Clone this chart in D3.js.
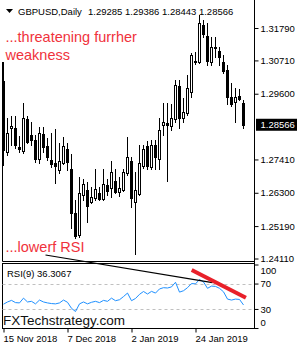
<!DOCTYPE html>
<html>
<head>
<meta charset="utf-8">
<script src="https://cdn.jsdelivr.net/npm/d3@7"></script>
<style>
    body { margin: 0; background: #fff; }
    svg { display: block; font-family: 'Liberation Sans', Arial, sans-serif; }
</style>
</head>
<body>
<svg id="chart" width="300" height="350"></svg>
<script>

// GBPUSD daily, 15 Nov 2018 .. 11 Feb 2019
const symbol = 'GBPUSD,Daily'
const lastQuote = [1.29285, 1.29386, 1.28443, 1.28566]

const open = [1.3002, 1.2766, 1.2846, 1.2846, 1.2782, 1.2769, 1.2876, 1.2822, 1.2806, 1.2742,
    1.2826, 1.2786, 1.2739, 1.2729, 1.2706, 1.2729, 1.2776, 1.2709, 1.2562, 1.2489,
    1.2622, 1.2639, 1.2599, 1.2612, 1.2629, 1.2609, 1.2656, 1.2646, 1.2669, 1.2632,
    1.2639, 1.2696, 1.2736, 1.2599, 1.2626, 1.2719, 1.2786, 1.2716, 1.2789, 1.2742,
    1.2856, 1.2862, 1.2852, 1.2876, 1.2986, 1.2879, 1.2896, 1.2966, 1.3066, 1.3066,
    1.3189, 1.3152, 1.3066, 1.3112, 1.3102, 1.3066, 1.3039, 1.2949, 1.2932, 1.2952,
    1.29285]
const high = [1.3066, 1.2879, 1.2886, 1.2886, 1.2819, 1.2929, 1.2886, 1.2866, 1.2822, 1.2849,
    1.2849, 1.2812, 1.2829, 1.2842, 1.2796, 1.2816, 1.2796, 1.2759, 1.2606, 1.2682,
    1.2676, 1.2666, 1.2649, 1.2709, 1.2649, 1.2709, 1.2676, 1.2736, 1.2709, 1.2682,
    1.2709, 1.2816, 1.2749, 1.2699, 1.2789, 1.2789, 1.2802, 1.2806, 1.2806, 1.2879,
    1.2929, 1.2929, 1.2926, 1.3006, 1.3006, 1.2946, 1.3022, 1.3096, 1.3099, 1.3222,
    1.3206, 1.3196, 1.3149, 1.3149, 1.3116, 1.3089, 1.3056, 1.2996, 1.2979, 1.2976,
    1.29386]
const low = [1.2722, 1.2756, 1.2789, 1.2779, 1.2766, 1.2762, 1.2796, 1.2789, 1.2732, 1.2729,
    1.2766, 1.2739, 1.2716, 1.2662, 1.2696, 1.2726, 1.2706, 1.2512, 1.2479, 1.2482,
    1.2606, 1.2532, 1.2596, 1.2606, 1.2606, 1.2606, 1.2622, 1.2616, 1.2629, 1.2619,
    1.2636, 1.2689, 1.2582, 1.2426, 1.2622, 1.2712, 1.2709, 1.2709, 1.2709, 1.2709,
    1.2822, 1.2669, 1.2839, 1.2866, 1.2846, 1.2866, 1.2889, 1.2949, 1.3059, 1.3062,
    1.3149, 1.3056, 1.3056, 1.3082, 1.3056, 1.3029, 1.2926, 1.2919, 1.2866, 1.2939,
    1.28443]
const close = [1.2772, 1.2829, 1.2852, 1.2789, 1.2776, 1.2879, 1.2799, 1.2806, 1.2742, 1.2829,
    1.2782, 1.2749, 1.2726, 1.2719, 1.2736, 1.2786, 1.2732, 1.2562, 1.2486, 1.2629,
    1.2659, 1.2586, 1.2616, 1.2642, 1.2609, 1.2659, 1.2636, 1.2699, 1.2632, 1.2646,
    1.2699, 1.2749, 1.2612, 1.2639, 1.2729, 1.2776, 1.2719, 1.2789, 1.2749, 1.2839,
    1.2866, 1.2856, 1.2879, 1.2989, 1.2879, 1.2899, 1.2979, 1.3089, 1.3069, 1.3196,
    1.3159, 1.3069, 1.3116, 1.3116, 1.3082, 1.3036, 1.2949, 1.2926, 1.2949, 1.2942,
    1.28566]

const rsi = [37.5, 41, 43.5, 40, 39.5, 47, 41, 42, 38, 44,
    41, 39.5, 38.5, 38, 39.5, 44, 40.5, 31, 26, 38,
    41, 38, 40.5, 42, 40, 43.5, 42, 47, 43, 44.5,
    49.5, 55, 43, 46.5, 53, 57.5, 53.5, 57.7, 55, 61.5,
    63.5, 63, 64.7, 72, 56.5, 58.7, 63.5, 70, 69.5, 76.4,
    72.5, 62.5, 66, 65.5, 62.5, 57, 45.5, 44, 45.5, 45,
    36.3067]

const priceTicks = [1.31790, 1.30710, 1.29600, 1.27410, 1.26300, 1.25190, 1.24110]
const rsiTicks = [100, 70, 30, 0]
const rsiLevels = [70, 30]
const dateTicks = [0, 16, 32, 48]
const dateLabels = ['15 Nov 2018', '7 Dec 2018', '2 Jan 2019', '24 Jan 2019']

// drawn-on trend lines, as (bar index, rsi value)
const rsiTrend = [{ i: 10.5, v: 115 }, { i: 52.25, v: 71.5 }]
const rsiBreak = [{ i: 47.05, v: 91.3 }, { i: 60.6, v: 47.7 }]

const notes = [
    { text: '...threatening furrher', y: 42 },
    { text: 'weakness', y: 60 },
    { text: '...lowerf RSI', y: 252 }
]

const svg = d3.select('#chart')

const left = 2.5
const right = 254.5
const mainBottom = 261.5
const rsiTop = 263.5
const rsiBottom = 328.5

const x = d3.scaleLinear().domain([0, 60]).range([3.5, 243.5])
const y = d3.scaleLinear().domain([1.2411, 1.3179]).range([258.5, 28])
const r = d3.scaleLinear().domain([0, 100]).range([328, 264.5])

const px = v => Math.round(v) + 0.5

// frames
svg.append('line')
    .attr('x1', left).attr('x2', left).attr('y1', 62).attr('y2', mainBottom)
    .attr('stroke', '#000')
svg.append('line')
    .attr('x1', left).attr('x2', right).attr('y1', mainBottom).attr('y2', mainBottom)
    .attr('stroke', '#000')
svg.append('rect')
    .attr('x', left).attr('y', rsiTop)
    .attr('width', right - left).attr('height', rsiBottom - rsiTop)
    .attr('fill', 'none').attr('stroke', '#000')
svg.append('line')
    .attr('x1', right).attr('x2', right).attr('y1', 0).attr('y2', rsiBottom)
    .attr('stroke', '#000')

// candles
const bars = d3.range(close.length).map(i => ({ i, o: open[i], h: high[i], l: low[i], c: close[i] }))

const candles = svg.append('g').attr('shape-rendering', 'crispEdges')

candles.selectAll('line.wick').data(bars).enter()
    .append('line')
    .attr('class', 'wick')
    .attr('x1', d => x(d.i)).attr('x2', d => x(d.i))
    .attr('y1', d => px(y(d.h)) - 0.5).attr('y2', d => px(y(d.l)) + 0.5)
    .attr('stroke', '#000')

candles.selectAll('rect.body').data(bars).enter()
    .append('rect')
    .attr('class', 'body')
    .attr('x', d => x(d.i) - 1)
    .attr('y', d => px(y(Math.max(d.o, d.c))))
    .attr('width', 2)
    .attr('height', d => px(y(Math.min(d.o, d.c))) - px(y(Math.max(d.o, d.c))))
    .attr('fill', d => d.c >= d.o ? '#fff' : '#000')
    .attr('stroke', '#000')

// price axis
const priceAxis = svg.append('g')
    .attr('transform', `translate(${right},0)`)
    .call(d3.axisRight(y).tickValues(priceTicks).tickFormat(d3.format('.5f')).tickSize(4).tickPadding(2))
priceAxis.select('.domain').remove()
priceAxis.selectAll('text').attr('font-size', 9.5).attr('font-family', null).attr('fill', '#000')

const last = lastQuote[3]
const tag = svg.append('g').attr('transform', `translate(${right},${y(last)})`)
tag.append('rect').attr('x', 1.5).attr('y', -6).attr('width', 41).attr('height', 12).attr('fill', '#000')
tag.append('text').attr('x', 6).attr('dy', '0.35em').attr('font-size', 9.5).attr('fill', '#fff')
    .text(d3.format('.5f')(last))

// header
svg.append('path')
    .attr('d', d3.line()([[6, 9], [13, 9], [9.5, 13]]) + 'Z')
    .attr('fill', '#000')
svg.append('text').attr('x', 18).attr('y', 14.5).attr('font-size', 9.5).text(symbol)
svg.append('text').attr('x', 88).attr('y', 14.5).attr('font-size', 9.5)
    .text(lastQuote.map(d3.format('.5f')).join(' '))

// rsi panel
svg.selectAll('line.level').data(rsiLevels).enter()
    .append('line')
    .attr('class', 'level')
    .attr('x1', left).attr('x2', right)
    .attr('y1', d => px(r(d))).attr('y2', d => px(r(d)))
    .attr('stroke', '#c0c0c0')
    .attr('stroke-dasharray', '3,3')

svg.append('path')
    .datum(rsi)
    .attr('d', d3.line().x((d, i) => x(i)).y(d => r(d)))
    .attr('fill', 'none')
    .attr('stroke', '#1e90ff')
    .attr('stroke-width', 1)

svg.append('line')
    .attr('x1', x(rsiTrend[0].i)).attr('y1', r(rsiTrend[0].v))
    .attr('x2', x(rsiTrend[1].i)).attr('y2', r(rsiTrend[1].v))
    .attr('stroke', '#000').attr('stroke-width', 1.2)

svg.append('line')
    .attr('x1', x(rsiBreak[0].i)).attr('y1', r(rsiBreak[0].v))
    .attr('x2', x(rsiBreak[1].i)).attr('y2', r(rsiBreak[1].v))
    .attr('stroke', '#e8202a').attr('stroke-width', 4)

svg.append('text').attr('x', 7).attr('y', 276.5).attr('font-size', 9.5)
    .text('RSI(9) ' + d3.format('.4f')(rsi[rsi.length - 1]))

const rsiAxis = svg.append('g')
    .attr('transform', `translate(${right},0)`)
    .call(d3.axisRight(r).tickValues(rsiTicks).tickSize(4).tickPadding(2))
rsiAxis.select('.domain').remove()
rsiAxis.selectAll('text').attr('font-size', 9.5).attr('font-family', null).attr('fill', '#000')
    .attr('dy', d => d === 100 ? '0.95em' : d === 0 ? '-0.25em' : '0.35em')

// time axis
const timeAxis = svg.append('g')
    .attr('transform', `translate(0,${rsiBottom})`)
    .call(d3.axisBottom(x).tickValues(dateTicks).tickFormat((d, k) => dateLabels[k]).tickSize(4).tickPadding(3))
timeAxis.select('.domain').remove()
timeAxis.selectAll('text').attr('font-size', 9.5).attr('font-family', null).attr('fill', '#000')
    .attr('text-anchor', 'start').attr('x', -0.5)

// annotations
svg.selectAll('text.note').data(notes).enter()
    .append('text')
    .attr('class', 'note')
    .attr('x', 5.5).attr('y', d => d.y)
    .attr('font-size', 14.5)
    .attr('fill', '#f0323c')
    .text(d => d.text)

svg.append('text').attr('x', 3).attr('y', 324.5).attr('font-size', 13.5).attr('fill', '#111')
    .text('FXTechstrategy.com')

</script>
</body>
</html>
